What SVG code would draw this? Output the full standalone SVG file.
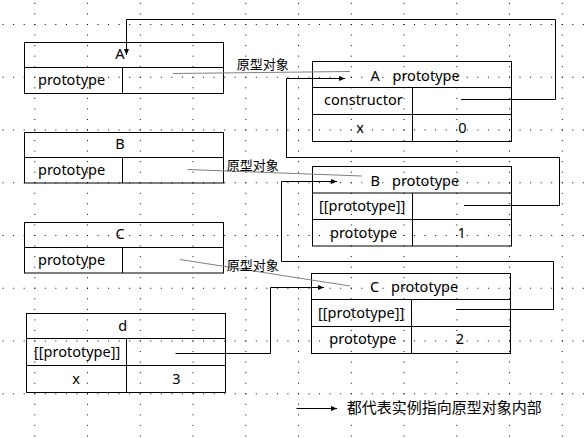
<svg xmlns="http://www.w3.org/2000/svg" width="585" height="438" viewBox="0 0 585 438">
<style>
.bg{fill:#fff}
.gh{stroke:#000;stroke-width:1;stroke-dasharray:1 9.55;fill:none}
.box{fill:none;stroke:#000;stroke-width:1}
.t{font-family:"Noto Sans","Open Sans","Noto Sans CJK SC",sans-serif;font-size:14.5px;fill:#000}
.m{text-anchor:middle}
.lbl{font-family:"Noto Sans CJK SC","Noto Sans",sans-serif;font-size:13px;fill:#000}
.leg{font-family:"Noto Sans CJK SC","Noto Sans",sans-serif;font-size:15px;fill:#000}
.gray{stroke:#808080;stroke-width:1;fill:none}
.con{stroke:#000;stroke-width:1;fill:none;marker-end:url(#ah)}
</style>
<defs>
<marker id="ah" markerUnits="userSpaceOnUse" markerWidth="7" markerHeight="6" refX="6" refY="2.5" orient="auto">
<path d="M0,0 L6,2.5 L0,5 z" fill="#000"/>
</marker>
</defs>
<rect class="bg" x="0" y="0" width="585" height="438"/>
<g id="grid">
<path class="gh" d="M2.6,24.5 H585 M2.6,77.25 H585 M2.6,130 H585 M2.6,182.75 H585 M2.6,235.5 H585 M2.6,288.25 H585 M2.6,341 H585 M2.6,393.75 H585"/>
<path class="gh" d="M34.8,2.9 V438 M87.55,2.9 V438 M140.3,2.9 V438 M193.05,2.9 V438 M245.8,2.9 V438 M298.55,2.9 V438 M351.3,2.9 V438 M404.05,2.9 V438 M456.8,2.9 V438 M509.55,2.9 V438 M562.3,2.9 V438"/>
</g>
<g id="nodeA">
<rect class="box" x="24.5" y="42.5" width="199" height="51"/>
<path class="box" d="M24.5,67.5 H223.5 M122.5,67.5 V93.5"/>
<text class="t m" x="120" y="59">A</text>
<text class="t" x="38" y="85">prototype</text>
</g>
<g id="nodeB">
<rect class="box" x="24.5" y="132.5" width="199" height="50.5"/>
<path class="box" d="M24.5,157.5 H223.5 M122.5,157.5 V183"/>
<text class="t m" x="120" y="149">B</text>
<text class="t" x="38" y="175">prototype</text>
</g>
<g id="nodeC">
<rect class="box" x="24.5" y="222.5" width="199" height="50.5"/>
<path class="box" d="M24.5,247.5 H223.5 M122.5,247.5 V273"/>
<text class="t m" x="120" y="238.5">C</text>
<text class="t" x="38" y="265">prototype</text>
</g>
<g id="nodeD">
<rect class="box" x="26.5" y="313.5" width="199" height="79"/>
<path class="box" d="M26.5,338.5 H225.5 M26.5,365.5 H225.5 M126.5,338.5 V392.5"/>
<text class="t m" x="122.7" y="331">d</text>
<text class="t" x="34" y="357">[[prototype]]</text>
<text class="t m" x="76" y="384">x</text>
<text class="t m" x="176.5" y="384">3</text>
</g>
<g id="nodeAproto">
<rect class="box" x="312.5" y="61.5" width="199" height="80"/>
<path class="box" d="M312.5,87.5 H511.5 M312.5,114.5 H511.5 M412.5,87.5 V141.5"/>
<text class="t" x="370.5" y="81">A<tspan x="392.5">prototype</tspan></text>
<text class="t" x="324" y="105">constructor</text>
<text class="t m" x="360" y="132.5">x</text>
<text class="t m" x="462.3" y="132.5">0</text>
</g>
<g id="nodeBproto">
<rect class="box" x="312.5" y="166.5" width="199" height="79.5"/>
<path class="box" d="M312.5,193 H511.5 M312.5,219.5 H511.5 M412.5,193 V246"/>
<text class="t" x="370.5" y="185.5">B<tspan x="392">prototype</tspan></text>
<text class="t" x="319" y="210.5">[[prototype]]</text>
<text class="t" x="330" y="238">prototype</text>
<text class="t m" x="461.7" y="238">1</text>
</g>
<g id="nodeCproto">
<rect class="box" x="311.5" y="273.5" width="199" height="80"/>
<path class="box" d="M311.5,299.5 H510.5 M311.5,326.5 H510.5 M411.5,299.5 V353.5"/>
<text class="t" x="370" y="291.7">C<tspan x="391">prototype</tspan></text>
<text class="t" x="318" y="318.3">[[prototype]]</text>
<text class="t" x="329.3" y="344">prototype</text>
<text class="t m" x="460" y="344">2</text>
</g>
<g id="connectors">
<path class="gray" d="M173,73.5 L350,71.5"/>
<path class="gray" d="M187.5,169.5 L362,176"/>
<path class="gray" d="M180,259.5 L350,286"/>
<text class="lbl" x="236.7" y="68.5">原型对象</text>
<text class="lbl" x="226.7" y="170">原型对象</text>
<text class="lbl" x="226.7" y="270">原型对象</text>
<path class="con" d="M461,99.5 H555.5 V19.5 H126.5 V55"/>
<path class="con" d="M464,205.5 H559.5 V157.5 H286.5 V78.5 H345"/>
<path class="con" d="M456.5,309.5 H553.5 V261.5 H281.5 V181.5 H337"/>
<path class="con" d="M175.5,353.5 H270.5 V287.5 H324"/>
</g>
<g id="legend">
<path class="con" d="M296.5,408.5 H337"/>
<text class="leg" x="346.7" y="413">都代表实例指向原型对象内部</text>
</g>
</svg>
